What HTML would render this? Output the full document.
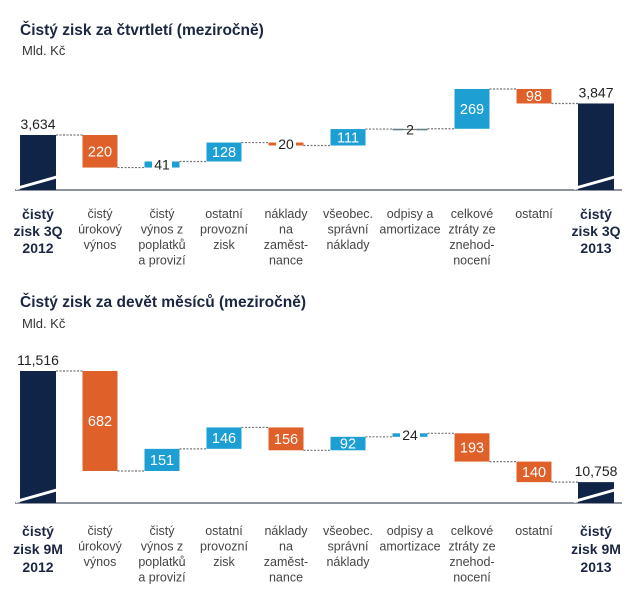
<!DOCTYPE html>
<html><head><meta charset="utf-8">
<style>
html,body{margin:0;padding:0;background:#fff;}
body{width:640px;height:588px;overflow:hidden;font-family:"Liberation Sans",Arial,sans-serif;}
svg text{font-family:"Liberation Sans",Arial,sans-serif;}
</style></head>
<body>
<svg id="c" width="640" height="588" viewBox="0 0 640 588" xmlns="http://www.w3.org/2000/svg">
<text x="20" y="35" font-size="15.5" font-weight="bold" fill="#1b2640">Čistý zisk za čtvrtletí (meziročně)</text>
<text x="22" y="55" font-size="13" fill="#333">Mld. Kč</text>
<text x="20" y="307" font-size="15.5" font-weight="bold" fill="#1b2640">Čistý zisk za devět měsíců (meziročně)</text>
<text x="22" y="328" font-size="13" fill="#333">Mld. Kč</text>
</svg>
<script>
const catsQ = [["čistý","zisk 3Q","2012"],["čistý","úrokový","výnos"],["čistý","výnos z","poplatků","a provizí"],["ostatní","provozní","zisk"],["náklady","na","zaměst-","nance"],["všeobec.","správní","náklady"],["odpisy a","amortizace"],["celkové","ztráty ze","znehod-","nocení"],["ostatní"],["čistý","zisk 3Q","2013"]];
const catsM = [["čistý","zisk 9M","2012"],["čistý","úrokový","výnos"],["čistý","výnos z","poplatků","a provizí"],["ostatní","provozní","zisk"],["náklady","na","zaměst-","nance"],["všeobec.","správní","náklady"],["odpisy a","amortizace"],["celkové","ztráty ze","znehod-","nocení"],["ostatní"],["čistý","zisk 9M","2013"]];
const startQ = 3634;
const deltasQ = [-220, 41, 128, -20, 111, 2, 269, -98];
const endQ = 3847;
const startM = 11516;
const deltasM = [-682, 151, 146, -156, 92, 24, -193, -140];
const endM = 10758;

const svg = document.getElementById('c');
const NS = 'http://www.w3.org/2000/svg';
function mk(tag, attrs){const e=document.createElementNS(NS,tag);for(const k in attrs)e.setAttribute(k,attrs[k]);svg.appendChild(e);return e;}
const fmt = v => v.toLocaleString('en-US');

function drawChart(id, cats, start, deltas, end, base, refY, scale, labelY, boldLH, regLH){
  const xc = i => 38 + 62*i;
  const y = v => refY - (v - start)*scale;
  const W = 35;
  const bl = mk('line',{x1:15,y1:base,x2:622,y2:base,stroke:'#8d939c','stroke-width':2});
  
  
  function total(i, v){
    const x0 = xc(i)-18, top = y(v);
    const r = mk('rect',{x:x0,y:top,width:36,height:base-top,fill:'#0f2446'});
    
    
    const br = mk('polygon',{points:`${x0-4},${base-3} ${x0+42},${base-16} ${x0+42},${base-13} ${x0-4},${base}`,fill:'#fff'});
    
    
    const t = mk('text',{x:xc(i),y:top-6,'font-size':14,'text-anchor':'middle',fill:'#222'});
    t.textContent = fmt(v);
    
    
  }
  function conn(i, v){
    const yy = y(v);
    const l = mk('line',{x1:xc(i)+(i===0?18:W/2),y1:yy,x2:xc(i+1)-W/2,y2:yy,stroke:'#777','stroke-width':1.2,'stroke-dasharray':'2,1.5'});
    
    
  }
  total(0, start);
  let cur = start;
  conn(0, cur);
  deltas.forEach((d, k) => {
    const i = k+1;
    const nxt = cur + d;
    const top = Math.min(y(cur), y(nxt)), h = Math.max(Math.abs(y(cur)-y(nxt)), 1.5);
    const col = d < 0 ? '#e0602a' : '#1e9fd4';
    const r = mk('rect',{x:xc(i)-W/2,y:top,width:W,height:h,fill:col});
    
    
    const small = h < 10;
    const label = String(Math.abs(d));
    if (small) {
      const tw = label.length*8 + 4;
      const ym = top + h/2;
      const bg = mk('rect',{x:xc(i)-tw/2,y:ym-8,width:tw,height:16,fill:'#fff'});
      
      
      if (h < 3 && Math.abs(d) < 5) {
        const gl = mk('line',{x1:xc(i)-W/2,y1:ym,x2:xc(i)+W/2,y2:ym,stroke:'#777','stroke-width':1.2});
        
        
        bg.setAttribute('x', xc(i)-7); bg.setAttribute('width', 14);
      }
      const t = mk('text',{x:xc(i),y:ym+5,'font-size':14,'text-anchor':'middle',fill:'#222'});
      t.textContent = label;
      
      
    } else {
      const t = mk('text',{x:xc(i),y:top+h/2+5,'font-size':14.5,'text-anchor':'middle',fill:'#fff'});
      t.textContent = label;
      
      
    }
    cur = nxt;
    conn(i, cur);
  });
  total(9, end);
  cats.forEach((lines, i) => {
    const bold = (i===0 || i===9);
    lines.forEach((s, j) => {
      const t = mk('text',{x:xc(i),y:labelY + (bold? j*boldLH : j*regLH) + (bold?1:0),'font-size':bold?14:12.5,'font-weight':bold?'bold':'normal','text-anchor':'middle',fill:bold?'#1b2640':'#444'});
      t.textContent = s;
      
      
    });
  });
}
drawChart('chart1', catsQ, startQ, deltasQ, endQ, 190, 135, 0.148, 218, 17, 15.5);
drawChart('chart2', catsM, startM, deltasM, endM, 503, 371, 0.1466, 535, 18, 15.5);
</script>
</body></html>
